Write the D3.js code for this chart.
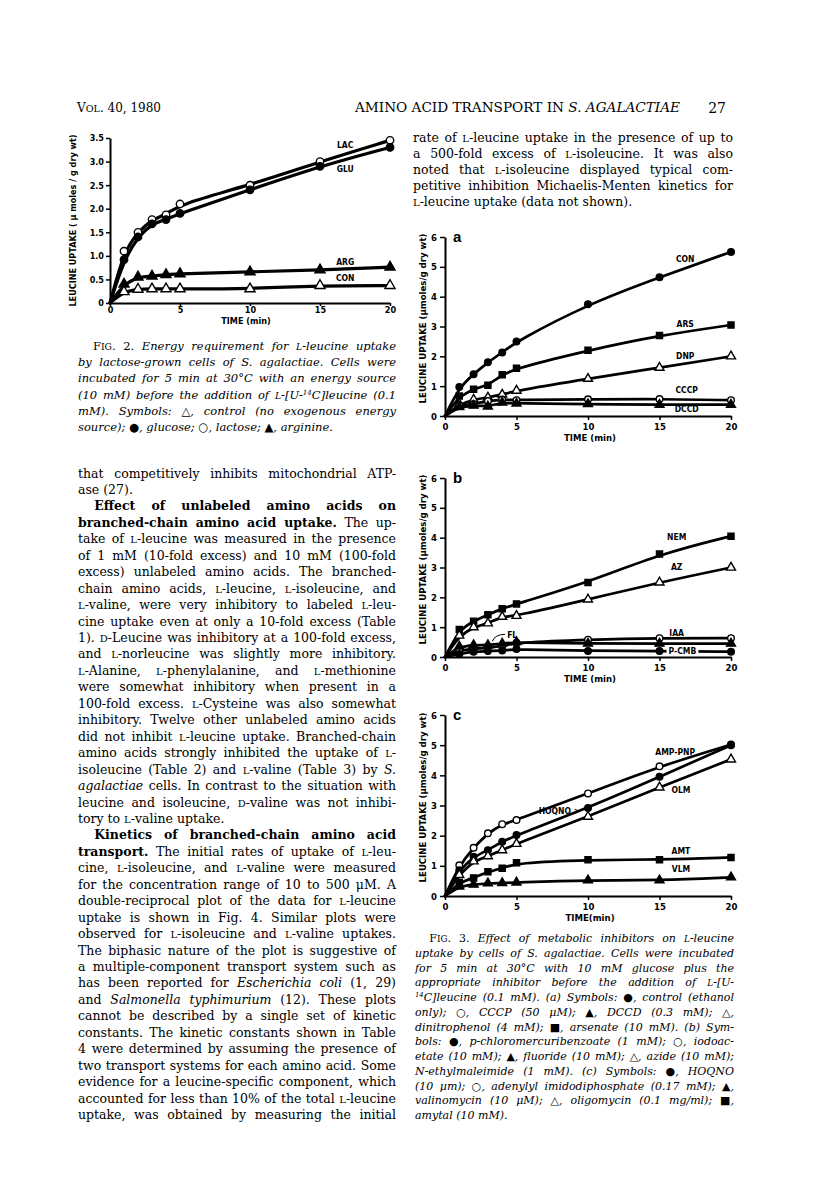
<!DOCTYPE html>
<html>
<head>
<meta charset="utf-8">
<script src="https://cdn.jsdelivr.net/npm/d3@7"></script>
<style>
body { margin: 0; background: #fff; }
svg { display: block; }
</style>
</head>
<body>
<svg id="page" width="816" height="1203"></svg>
<script>
// sampling times (min), shared by every panel
var times = [0, 1, 2, 3, 4, 5, 10, 15, 20];
var xTicks = [0, 5, 10, 15, 20];

// Fig. 2 - energy sources
var fig2Lac = [0, 1.10, 1.50, 1.77, 1.87, 2.10, 2.50, 3.00, 3.45];
var fig2Glu = [0, 0.92, 1.40, 1.68, 1.77, 1.90, 2.40, 2.90, 3.30];
var fig2Arg = [0, 0.40, 0.55, 0.57, 0.60, 0.62, 0.66, 0.70, 0.76];
var fig2Con = [0, 0.24, 0.29, 0.30, 0.30, 0.30, 0.30, 0.37, 0.37];
var fig2YTicks = [0, 0.5, 1, 1.5, 2, 2.5, 3, 3.5];

// Fig. 3a
var aCon  = [0, 0.97, 1.40, 1.80, 2.13, 2.50, 3.75, 4.65, 5.50];
var aArs  = [0, 0.67, 0.90, 1.03, 1.38, 1.60, 2.20, 2.70, 3.05];
var aDnp  = [0, 0.40, 0.55, 0.62, 0.72, 0.85, 1.25, 1.62, 2.00];
var aCccp = [0, 0.36, 0.40, 0.50, 0.55, 0.53, 0.56, 0.57, 0.53];
var aDccd = [0, 0.30, 0.35, 0.32, 0.45, 0.42, 0.40, 0.38, 0.38];

// Fig. 3b
var bNem  = [0, 0.92, 1.20, 1.42, 1.62, 1.78, 2.50, 3.45, 4.05];
var bAz   = [0, 0.72, 1.00, 1.13, 1.35, 1.38, 1.93, 2.50, 3.00];
var bIaa  = [0, 0.22, 0.28, 0.30, 0.37, 0.48, 0.58, 0.63, 0.63];
var bFl   = [0, 0.35, 0.40, 0.40, 0.45, 0.50, 0.45, 0.45, 0.45];
var bPcmb = [0, 0.10, 0.18, 0.20, 0.22, 0.27, 0.20, 0.20, 0.18];

// Fig. 3c
var cAmp = [0, 1.02, 1.60, 2.08, 2.38, 2.52, 3.40, 4.30, 5.02];
var cHoq = [0, 0.85, 1.30, 1.52, 1.80, 2.02, 2.92, 3.95, 5.00];
var cOlm = [0, 0.70, 1.15, 1.32, 1.52, 1.73, 2.63, 3.60, 4.53];
var cAmt = [0, 0.45, 0.60, 0.80, 0.92, 1.10, 1.20, 1.20, 1.28];
var cVlm = [0, 0.32, 0.38, 0.42, 0.43, 0.45, 0.52, 0.52, 0.62];
var fig3YTicks = [0, 1, 2, 3, 4, 5, 6];

// page text  ( ">" = indented line, "|" = paragraph end, ** bold, __ italic toggle, {L} small caps, {^14} superscript )
var headRight = [
    "rate of {L}-leucine uptake in the presence of up to",
    "a 500-fold excess of {L}-isoleucine. It was also",
    "noted that {L}-isoleucine displayed typical com-",
    "petitive inhibition Michaelis-Menten kinetics for",
    "{L}-leucine uptake (data not shown).|"
];
var fig2Caption = [
    ">__F{IG}. 2.__ Energy requirement for {L}-leucine uptake",
    "by lactose-grown cells of S. agalactiae. Cells were",
    "incubated for 5 min at 30°C with an energy source",
    "(10 mM) before the addition of {L}-[U-{^14}C]leucine (0.1",
    "mM). Symbols: △, control (no exogenous energy",
    "source); ●, glucose; ○, lactose; ▲, arginine.|"
];
var bodyLeft = [
    "that competitively inhibits mitochondrial ATP-",
    "ase (27).|",
    ">**Effect of unlabeled amino acids on**",
    "**branched-chain amino acid uptake.** The up-",
    "take of {L}-leucine was measured in the presence",
    "of 1 mM (10-fold excess) and 10 mM (100-fold",
    "excess) unlabeled amino acids. The branched-",
    "chain amino acids, {L}-leucine, {L}-isoleucine, and",
    "{L}-valine, were very inhibitory to labeled {L}-leu-",
    "cine uptake even at only a 10-fold excess (Table",
    "1). {D}-Leucine was inhibitory at a 100-fold excess,",
    "and {L}-norleucine was slightly more inhibitory.",
    "{L}-Alanine, {L}-phenylalanine, and {L}-methionine",
    "were somewhat inhibitory when present in a",
    "100-fold excess. {L}-Cysteine was also somewhat",
    "inhibitory. Twelve other unlabeled amino acids",
    "did not inhibit {L}-leucine uptake. Branched-chain",
    "amino acids strongly inhibited the uptake of {L}-",
    "isoleucine (Table 2) and {L}-valine (Table 3) by __S.__",
    "__agalactiae__ cells. In contrast to the situation with",
    "leucine and isoleucine, {D}-valine was not inhibi-",
    "tory to {L}-valine uptake.|",
    ">**Kinetics of branched-chain amino acid**",
    "**transport.** The initial rates of uptake of {L}-leu-",
    "cine, {L}-isoleucine, and {L}-valine were measured",
    "for the concentration range of 10 to 500 μM. A",
    "double-reciprocal plot of the data for {L}-leucine",
    "uptake is shown in Fig. 4. Similar plots were",
    "observed for {L}-isoleucine and {L}-valine uptakes.",
    "The biphasic nature of the plot is suggestive of",
    "a multiple-component transport system such as",
    "has been reported for __Escherichia coli__ (1, 29)",
    "and __Salmonella typhimurium__ (12). These plots",
    "cannot be described by a single set of kinetic",
    "constants. The kinetic constants shown in Table",
    "4 were determined by assuming the presence of",
    "two transport systems for each amino acid. Some",
    "evidence for a leucine-specific component, which",
    "accounted for less than 10% of the total {L}-leucine",
    "uptake, was obtained by measuring the initial"
];
var fig3Caption = [
    ">__F{IG}. 3.__ Effect of metabolic inhibitors on {L}-leucine",
    "uptake by cells of S. agalactiae. Cells were incubated",
    "for 5 min at 30°C with 10 mM glucose plus the",
    "appropriate inhibitor before the addition of {L}-[U-",
    "{^14}C]leucine (0.1 mM). (a) Symbols: ●, control (ethanol",
    "only); ○, CCCP (50 μM); ▲, DCCD (0.3 mM); △,",
    "dinitrophenol (4 mM); ■, arsenate (10 mM). (b) Sym-",
    "bols: ●, p-chloromercuribenzoate (1 mM); ○, iodoac-",
    "etate (10 mM); ▲, fluoride (10 mM); △, azide (10 mM);",
    "N-ethylmaleimide (1 mM). (c) Symbols: ●, HOQNO",
    "(10 μm); ○, adenylyl imidodiphosphate (0.17 mM); ▲,",
    "valinomycin (10 μM); △, oligomycin (0.1 mg/ml); ■,",
    "amytal (10 mM).|"
];

var SERIF = "'DejaVu Serif','Liberation Serif',serif";
var LAB = "'Liberation Sans Narrow','DejaVu Sans Condensed','Roboto Condensed','Liberation Sans',sans-serif";

var svg = d3.select("#page");

function richText(parent, str, x, y, size, italic, width)
{
    var indent = 0, justify = !!width;
    if (str[0] === ">") { indent = size * 1.3; str = str.slice(1); }
    if (str.slice(-1) === "|") { justify = false; str = str.slice(0, -1); }

    var t = parent.append("text")
        .attr("x", x + indent)
        .attr("y", y)
        .attr("font-family", SERIF)
        .attr("font-size", size)
        .style("white-space", "pre");

    var bold = false, ital = italic, plain = "";
    str.split(/(\*\*|__|\{[^}]+\})/).forEach(function (p)
    {
        if (p === "**") { bold = !bold; return; }
        if (p === "__") { ital = !ital; return; }
        if (!p) return;
        var ts = t.append("tspan")
            .attr("font-weight", bold ? "bold" : "normal")
            .attr("font-style", ital ? "italic" : "normal");
        if (p[0] === "{" && p[1] === "^") {
            ts.text(p.slice(2, -1)).attr("font-size", size * 0.62).attr("baseline-shift", "super");
        } else if (p[0] === "{") {
            ts.text(p.slice(1, -1)).attr("font-size", size * 0.8);
        } else {
            ts.text(p);
        }
        plain += ts.text();
    });

    if (justify) {
        var target = width - indent;
        var len = t.node().getComputedTextLength();
        var n = (plain.match(/ /g) || []).length;
        if (n > 0) {
            var ws = (target - len) / n;
            if (ws < -2) t.attr("textLength", target).attr("lengthAdjust", "spacingAndGlyphs");
            else t.attr("word-spacing", ws);
        }
    }
    return t;
}

function block(lines, x, width, y0, lh, size, italic)
{
    var g = svg.append("g");
    lines.forEach(function (s, i)
    {
        richText(g, s, x, y0 + i * lh, size, italic, width);
    });
}

// running head
richText(svg, "V{OL}. 40, 1980", 77, 112, 12, false, 0);
richText(svg, "AMINO ACID TRANSPORT IN __S. AGALACTIAE__", 355, 112, 12, false, 0)
    .attr("textLength", 325).attr("lengthAdjust", "spacingAndGlyphs");
svg.append("text").attr("x", 726).attr("y", 113).attr("text-anchor", "end")
    .attr("font-family", SERIF).attr("font-size", 14).text("27");

block(headRight, 413, 320, 141.5, 16, 12.5, false);
block(fig2Caption, 78, 318, 350, 16.2, 11.5, true);
block(bodyLeft, 78, 318, 477.5, 16.45, 12.5, false);
block(fig3Caption, 415, 319, 942, 14.75, 11, true);

function drawMarker(g, kind, px, py, r)
{
    var filled = kind.indexOf("Filled") >= 0;
    var m;
    if (kind.indexOf("circle") === 0) {
        m = g.append("circle").attr("cx", px).attr("cy", py).attr("r", r);
    } else {
        var type = kind.indexOf("tri") === 0 ? d3.symbolTriangle : d3.symbolSquare;
        var size = kind.indexOf("tri") === 0 ? r * r * 3.2 : r * r * 3.4;
        m = g.append("path").attr("d", d3.symbol().type(type).size(size)())
            .attr("transform", "translate(" + px + "," + py + ")");
    }
    m.attr("fill", filled ? "#000" : "#fff").attr("stroke", "#000").attr("stroke-width", 1.4);
}

function panel(cfg)
{
    var x = d3.scaleLinear().domain([0, 20]).range([cfg.left, cfg.right]);
    var y = d3.scaleLinear().domain([0, cfg.yMax]).range([cfg.bottom, cfg.top]);
    var g = svg.append("g");

    var xa = g.append("g")
        .attr("transform", "translate(0," + cfg.bottom + ")")
        .call(d3.axisBottom(x).tickValues(xTicks).tickSize(cfg.tick).tickPadding(cfg.xpad).tickSizeOuter(0));
    var ya = g.append("g")
        .attr("transform", "translate(" + cfg.left + ",0)")
        .call(d3.axisLeft(y).tickValues(cfg.yTicks).tickFormat(cfg.yFmt).tickSize(cfg.tick + 1).tickPadding(cfg.pad).tickSizeOuter(0));

    [xa, ya].forEach(function (a)
    {
        a.attr("font-family", LAB).attr("font-size", cfg.fs).attr("font-weight", "bold");
        a.select(".domain").attr("stroke-width", 2);
        a.selectAll(".tick line").attr("stroke-width", 1.5);
    });

    var line = d3.line()
        .x(function (d, i) { return x(times[i]); })
        .y(function (d) { return y(d); })
        .curve(d3.curveBasis);

    cfg.series.forEach(function (s)
    {
        g.append("path").attr("d", line(s.vals))
            .attr("fill", "none").attr("stroke", "#000")
            .attr("stroke-width", cfg.sw).attr("stroke-linecap", "round");
    });
    cfg.series.forEach(function (s)
    {
        s.vals.forEach(function (v, i)
        {
            if (i === 0) return;
            drawMarker(g, s.marker, x(times[i]), y(v), cfg.r);
        });
    });

    (cfg.leaders || []).forEach(function (l)
    {
        g.append("path")
            .attr("d", "M" + x(l[0]) + "," + y(l[1]) + " Q" + x(l[2]) + "," + y(l[3]) + " " + x(l[4]) + "," + y(l[5]))
            .attr("fill", "none").attr("stroke", "#000").attr("stroke-width", 1);
    });

    cfg.labels.forEach(function (l)
    {
        var t = g.append("text")
            .attr("x", x(l.x)).attr("y", y(l.y))
            .attr("dy", "0.35em")
            .attr("text-anchor", "middle")
            .attr("font-family", LAB).attr("font-weight", "bold").attr("font-size", cfg.lfs)
            .text(l.t);
        if (l.bg) {
            var b = t.node().getBBox();
            g.insert("rect", function () { return t.node(); })
                .attr("x", b.x - 2).attr("y", b.y).attr("width", b.width + 4).attr("height", b.height)
                .attr("fill", "#fff");
        }
    });

    if (cfg.letter) {
        g.append("text").attr("x", cfg.left + 8).attr("y", cfg.top + 5)
            .attr("font-family", "'Liberation Sans',Arial,sans-serif").attr("font-weight", "bold")
            .attr("font-size", 15).text(cfg.letter);
    }

    g.append("text")
        .attr("x", cfg.xTitleX).attr("y", cfg.bottom + cfg.xTitleDy)
        .attr("text-anchor", "middle")
        .attr("font-family", LAB).attr("font-weight", "bold").attr("font-size", cfg.fs)
        .text(cfg.xTitle);

    g.append("text")
        .attr("transform", "translate(" + cfg.yTitleX + "," + ((cfg.top + cfg.bottom) / 2 - cfg.yTitleUp) + ") rotate(-90)")
        .attr("text-anchor", "middle")
        .attr("dy", "0.35em")
        .attr("font-family", LAB).attr("font-weight", "bold").attr("font-size", cfg.fs)
        .text(cfg.yTitle);
}

panel({
    left: 110, right: 390, bottom: 303, top: 138, yMax: 3.5,
    yTicks: fig2YTicks,
    yFmt: function (d) { return d === 0 ? "0" : d.toFixed(1); },
    tick: 3, pad: 2, xpad: 1, fs: 9, lfs: 8.5, sw: 3.2, r: 3.7,
    series: [
        { vals: fig2Lac, marker: "circleOpen" },
        { vals: fig2Glu, marker: "circleFilled" },
        { vals: fig2Arg, marker: "triFilled" },
        { vals: fig2Con, marker: "triOpen" }
    ],
    labels: [
        { t: "LAC", x: 16.8, y: 3.36 },
        { t: "GLU", x: 16.8, y: 2.84 },
        { t: "ARG", x: 16.8, y: 0.86 },
        { t: "CON", x: 16.8, y: 0.53 }
    ],
    xTitle: "TIME (min)", xTitleX: 246, xTitleDy: 21,
    yTitle: "LEUCINE UPTAKE ( µ moles / g dry wt)", yTitleX: 73, yTitleUp: 0
});

var fig3Base = {
    left: 445, right: 731, yMax: 6, yTicks: fig3YTicks,
    yFmt: d3.format("d"),
    tick: 4, pad: 3, xpad: 3, fs: 9.5, lfs: 8.5, sw: 2.7, r: 3.3,
    xTitleX: 590, xTitleDy: 25,
    yTitle: "LEUCINE UPTAKE (µmoles/g dry wt)", yTitleX: 423, yTitleUp: 8
};

panel(Object.assign({}, fig3Base, {
    bottom: 416, top: 237, letter: "a", xTitle: "TIME (min)",
    series: [
        { vals: aCon, marker: "circleFilled" },
        { vals: aArs, marker: "squareFilled" },
        { vals: aDnp, marker: "triOpen" },
        { vals: aCccp, marker: "circleOpen" },
        { vals: aDccd, marker: "triFilled" }
    ],
    labels: [
        { t: "CON", x: 16.8, y: 5.25 },
        { t: "ARS", x: 16.8, y: 3.07 },
        { t: "DNP", x: 16.8, y: 2.0 },
        { t: "CCCP", x: 16.9, y: 0.86 },
        { t: "DCCD", x: 16.9, y: 0.22 }
    ]
}));

panel(Object.assign({}, fig3Base, {
    bottom: 657, top: 478, letter: "b", xTitle: "TIME (min)",
    series: [
        { vals: bNem, marker: "squareFilled" },
        { vals: bAz, marker: "triOpen" },
        { vals: bIaa, marker: "circleOpen" },
        { vals: bFl, marker: "triFilled" },
        { vals: bPcmb, marker: "circleFilled" }
    ],
    labels: [
        { t: "NEM", x: 16.2, y: 4.02 },
        { t: "AZ", x: 16.2, y: 3.02 },
        { t: "IAA", x: 16.2, y: 0.80 },
        { t: "FL", x: 4.7, y: 0.75 },
        { t: "P-CMB", x: 16.6, y: 0.21, bg: true }
    ],
    leaders: [[4.2, 0.76, 3.5, 0.76, 3.3, 0.52]]
}));

panel(Object.assign({}, fig3Base, {
    bottom: 896, top: 715, letter: "c", xTitle: "TIME(min)",
    series: [
        { vals: cAmp, marker: "circleOpen" },
        { vals: cHoq, marker: "circleFilled" },
        { vals: cOlm, marker: "triOpen" },
        { vals: cAmt, marker: "squareFilled" },
        { vals: cVlm, marker: "triFilled" }
    ],
    labels: [
        { t: "AMP-PNP", x: 16.1, y: 4.78 },
        { t: "OLM", x: 16.5, y: 3.50 },
        { t: "HOQNO >", x: 8.0, y: 2.81 },
        { t: "AMT", x: 16.5, y: 1.48 },
        { t: "VLM", x: 16.5, y: 0.90 }
    ]
}));
</script>
</body>
</html>
